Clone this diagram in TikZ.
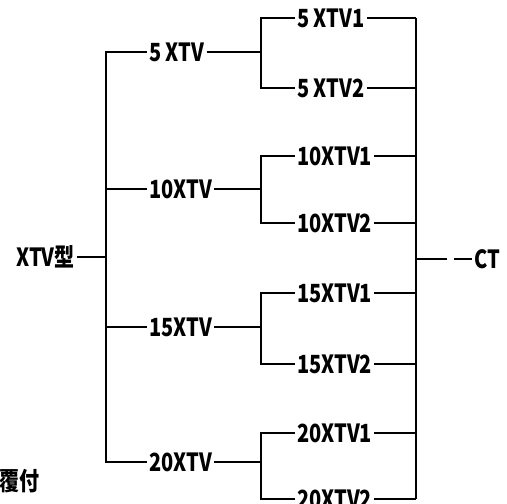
\documentclass[tikz,border=0pt]{standalone}
\usepackage{fontspec}
\setmainfont{Noto Sans CJK JP}
\newfontfamily\lblfont{Noto Sans CJK JP}[FakeStretch=0.8]
\usetikzlibrary{positioning,calc}
\tikzset{
  lbl/.style={inner sep=2pt,anchor=west,font=\lblfont\bfseries\fontsize{25}{25}\selectfont},
  wire/.style={line width=1.8pt,black},
}
\begin{document}
\begin{tikzpicture}[x=1pt,y=-1pt]
  \useasboundingbox (0,0) rectangle (507,504);
  % root and its trunk
  \node[lbl,anchor=east] (root) at (77,257) {XTV型};
  \coordinate (rootbar) at (106,257);
  \coordinate (rtrunk) at (416,259);
  \foreach \n/\t/\y/\ya/\yb in {5/5 XTV/52/18/88,10/10XTV/189/156/223,
      15/15XTV/327/293/364,20/20XTV/462/433/499}{
    \node[lbl] (g\n) at (147,\y) {\t};
    \node[lbl] (g\n a) at (295,\ya) {\t1};
    \node[lbl] (g\n b) at (295,\yb) {\t2};
    \coordinate (s\n) at (261,\y);
    \draw[wire] (g\n.east) -- (s\n);
    \draw[wire] (g\n a.west) -| (s\n) |- (g\n b.west);
    \draw[wire] (g\n a.east) -- (g\n a.east -| rtrunk);
    \draw[wire] (g\n b.east) -- (g\n b.east -| rtrunk);
  }
  \draw[wire] (root.east) -- (rootbar);
  \draw[wire] (g5.west) -| (rootbar) |- (g20.west);
  \draw[wire] (g10.west) -- (g10.west -| rootbar);
  \draw[wire] (g15.west) -- (g15.west -| rootbar);
  \draw[wire] (g5a.east -| rtrunk) -- (g20b.east -| rtrunk);
  % output
  \node[lbl] (ct) at (472,259) {CT};
  \draw[wire,dash pattern=on 31pt off 7pt on 30pt] (rtrunk) -- (ct.west);
  \node[lbl] (cover) at (-3,481) {覆付};
\end{tikzpicture}
\end{document}
